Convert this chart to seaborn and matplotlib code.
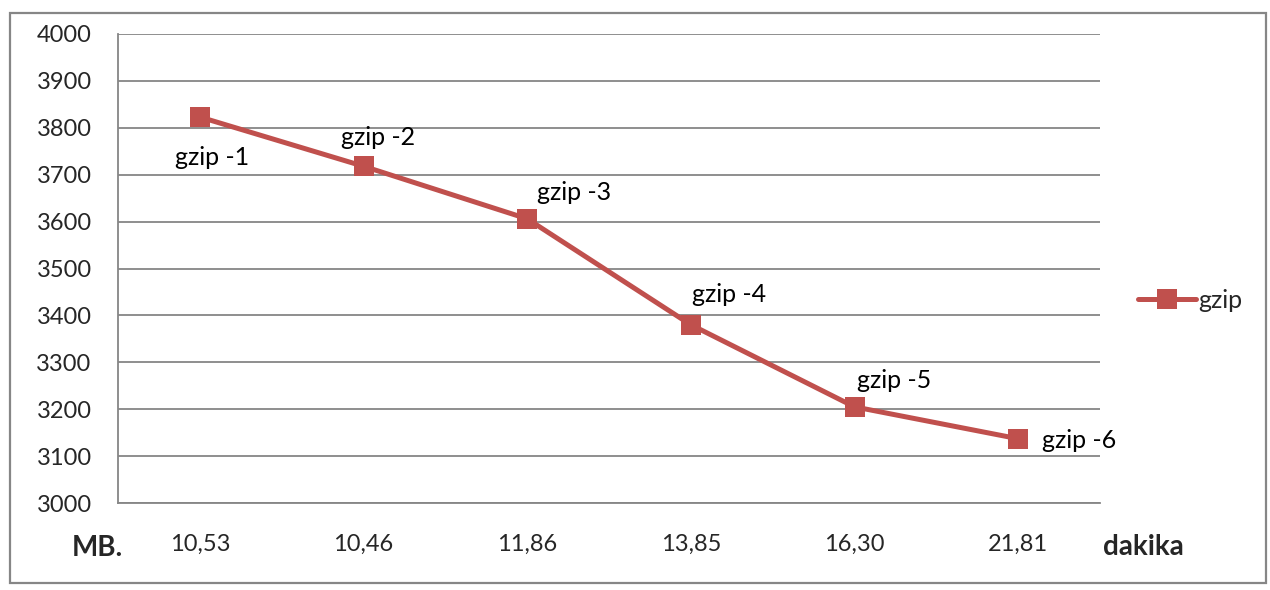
import matplotlib
matplotlib.use("Agg")
import matplotlib.pyplot as plt
import matplotlib.patches as mpatches
from matplotlib.ticker import FixedLocator, NullFormatter
import seaborn as sns
import pandas as pd

# Compression time per level (minutes) and resulting size (MB)
minutes = ["10,53", "10,46", "11,86", "13,85", "16,30", "21,81"]
size_mb = [3823, 3718, 3606, 3380, 3205, 3137]
levels = ["gzip -1", "gzip -2", "gzip -3", "gzip -4", "gzip -5", "gzip -6"]
series_name = "gzip"

sns.set_style("white")
plt.rcParams["font.family"] = ["Lato", "DejaVu Sans"]

RED = "#C0504D"
GRAY = "#868686"
FS = 17
FS_LAB = 18

df = pd.DataFrame({"pos": range(len(minutes)), "size": size_mb})

fig = plt.figure(figsize=(12.7, 5.9), dpi=100)
ax = fig.add_axes([118 / 1270, 1 - 503 / 590, (1100 - 118) / 1270, (503 - 34) / 590])

# outer chart frame
fig.patches.append(mpatches.Rectangle((10 / 1270, 1 - 583 / 590), (1266 - 10) / 1270,
                                      (583 - 13) / 590, transform=fig.transFigure,
                                      fill=False, edgecolor=GRAY, linewidth=1.6))

sns.lineplot(data=df, x="pos", y="size", ax=ax, color=RED, linewidth=3.6,
             marker="s", markersize=14, markeredgewidth=0, label=series_name)

ax.set_xlim(-0.5, len(minutes) - 0.5)
ax.set_ylim(3000, 4000)
ax.set_yticks(range(3000, 4001, 100))
ax.yaxis.grid(True, color=GRAY, linewidth=1.3)
ax.set_axisbelow(True)

ax.set_xticks(range(len(minutes)))
ax.set_xticklabels(minutes)
ax.xaxis.set_minor_locator(FixedLocator([i - 0.5 for i in range(len(minutes) + 1)]))
ax.xaxis.set_minor_formatter(NullFormatter())
ax.tick_params(axis="x", which="major", length=0, pad=22, labelsize=FS)
ax.tick_params(axis="x", which="minor", length=8, width=1.3, color=GRAY, direction="out")
ax.tick_params(axis="y", length=8, width=1.3, color=GRAY, direction="out", pad=11, labelsize=FS)
ax.set_xlabel("")
ax.set_ylabel("")

for side in ("top", "right"):
    ax.spines[side].set_visible(False)
for side in ("left", "bottom"):
    ax.spines[side].set_color(GRAY)
    ax.spines[side].set_linewidth(1.3)

# point labels
offsets = [(12, -40), (15, 29), (47, 26), (38, 30), (40, 26), (61, -2)]
for i, (lab, off) in enumerate(zip(levels, offsets)):
    ax.annotate(lab, (i, size_mb[i]), xytext=off, textcoords="offset pixels",
                ha="center", va="center", fontsize=FS_LAB, color="black")

fig.text(97 / 1270, 1 - 548 / 590, "MB.", ha="center", va="center",
         fontsize=20, fontweight="bold")
fig.text(1143 / 1270, 1 - 547 / 590, "dakika", ha="center", va="center",
         fontsize=20, fontweight="bold")

ax.legend(loc="center left", bbox_to_anchor=(1138 / 1270, 1 - 300 / 590),
          bbox_transform=fig.transFigure, frameon=False, fontsize=FS_LAB,
          borderpad=0, borderaxespad=0, handlelength=2.3, handletextpad=0.1)

fig.savefig("out.png", dpi=100, facecolor="white")
